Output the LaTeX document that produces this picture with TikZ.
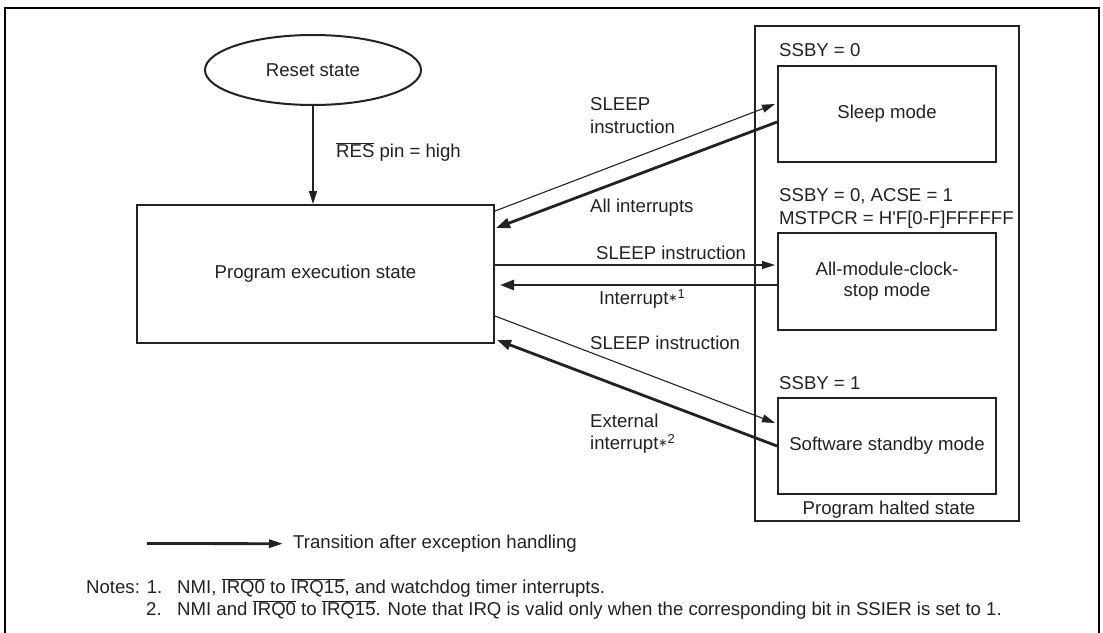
\documentclass[tikz,border=0pt]{standalone}
\usepackage{fontspec}
\setmainfont{Liberation Sans}[Ligatures=TeXOff]
\newfontfamily\djv{DejaVu Sans}
\usetikzlibrary{arrows.meta,calc,shapes.geometric}
\newcommand\ovl[1]{\ensuremath{\overline{\mbox{#1}}}}
\newcommand\astr[1]{\raisebox{3.5pt}{\djv\fontsize{11}{11}\selectfont ∗}\textsuperscript{#1}}
\definecolor{ink}{HTML}{222222}
\begin{document}
\begin{tikzpicture}[x=1pt,y=-1pt,
  every node/.style={font=\fontsize{18.6}{21}\selectfont, text=ink},
  box/.style={draw=ink, line width=2pt, inner sep=2pt, align=center},
  lbl/.style={anchor=base west, inner sep=0pt},
  thinarr/.style={draw=ink, line width=1.1pt, -{Triangle[length=13pt,width=8pt]}},
  thickarr/.style={draw=ink, line width=2.8pt, -{Triangle[length=14pt,width=10pt]}}]
\useasboundingbox (0,0) rectangle (1103,632);
% outer frame (open at the bottom edge of the picture)
\draw[line width=2.2pt, draw=black] (5,640) -- (5,8) -- (1099,8) -- (1099,640);

% nodes
\node[draw=ink, line width=2pt, ellipse, minimum width=216pt, minimum height=70pt, inner sep=0pt] (reset) at (313,70) {Reset state};
\node[box, minimum width=357pt, minimum height=138pt] (prog) at (315.5,274) {Program execution state};
\node[box, minimum width=264pt, minimum height=495pt] (halt) at (887,273.5) {};
\node[box, minimum width=218pt, minimum height=96pt] (sleep) at (887,114) {Sleep mode};
\node[box, minimum width=218pt, minimum height=97pt] (allmod) at (887,281.5) {All-module-clock-\\stop mode};
\node[box, minimum width=218pt, minimum height=96pt] (soft) at (887,446) {Software standby mode};

% texts
\node[lbl] (ssby0) at (779,56.5) {SSBY = 0};
\node[lbl] (ssbyacse) at (779,201.5) {SSBY = 0, ACSE = 1};
\node[lbl] (mstpcr) at (779,224.5) {MSTPCR = H'F[0-F]FFFFFF};
\node[lbl] (ssby1) at (779,389.5) {SSBY = 1};
\node[anchor=base, inner sep=0pt] (halttxt) at (889,514.5) {Program halted state};

\node[lbl] (res) at (336,157.5) {\ovl{RES} pin = high};
\node[lbl] (sl1a) at (590,110.5) {SLEEP};
\node[lbl] (sl1b) at (590,133.5) {instruction};
\node[lbl] (allint) at (590,212.5) {All interrupts};
\node[lbl] (sl2) at (596,259.5) {SLEEP instruction};
\node[lbl] (int1) at (599,304.5) {Interrupt\astr{1}};
\node[lbl] (sl3) at (590,349.5) {SLEEP instruction};
\node[lbl] (ext1) at (590,427.5) {External};
\node[lbl] (ext2) at (590,449.5) {interrupt\astr{2}};

% connectors
\draw[thinarr] (reset.south) -- (reset.south |- prog.north);
\draw[thinarr] ([yshift=-7pt]prog.north east) -- ([yshift=10pt,xshift=-2pt]sleep.west);
\draw[thickarr] ([yshift=-8pt]sleep.west) -- ([yshift=-24pt,xshift=1pt]prog.north east);
\draw[thinarr] ([yshift=9pt]prog.east) -- ([yshift=9pt,xshift=-2pt]prog.east -| allmod.west);
\draw[thickarr] ([yshift=-3.5pt]allmod.west) -- ([yshift=-3.5pt,xshift=5pt]allmod.west -| prog.east);
\draw[thinarr] ([yshift=28pt]prog.south east) -- ([yshift=23pt,xshift=-2pt]soft.west);
\draw[thickarr] (soft.west) -- ([yshift=4pt,xshift=2pt]prog.south east);

% legend
\node[lbl] (leg) at (293,548.5) {Transition after exception handling};
\coordinate (legstart) at (147,543.5);
\draw[line width=2.8pt, draw=ink, -{Triangle[length=14pt,width=8pt]}] (legstart) -- ([xshift=-10pt]leg.west);

% notes
\node[lbl] (notes1) at (86,593.5) {Notes: 1.};
\node[lbl] (note1) at (177,593.5) {NMI, \ovl{IRQ0} to \ovl{IRQ15}, and watchdog timer interrupts.};
\node[lbl] (notes2) at (146,615.5) {2.};
\node[lbl] (note2) at (177,615.5) {NMI and \ovl{IRQ0} to \ovl{IRQ15}. Note that IRQ is valid only when the corresponding bit in SSIER is set to 1.};
\end{tikzpicture}
\end{document}
